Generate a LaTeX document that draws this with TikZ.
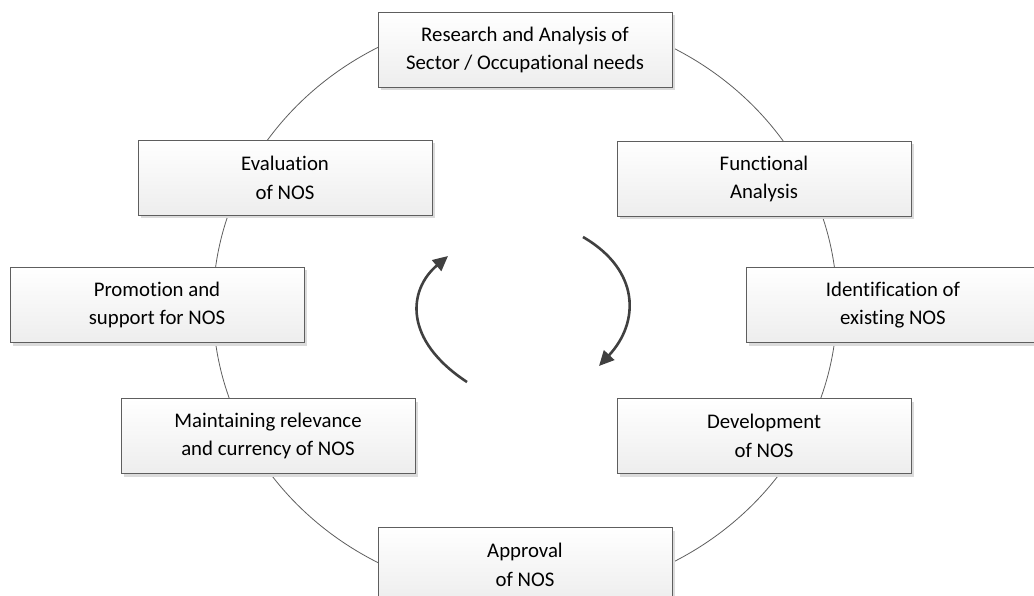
\documentclass[tikz,border=0pt]{standalone}
\usepackage{fontspec}
\setmainfont{Carlito}[Ligatures=NoCommon]
\usetikzlibrary{arrows.meta,shadows}

\definecolor{framegray}{HTML}{5E5E5E}
\definecolor{arrowgray}{HTML}{404040}

\tikzset{
  stagebox/.style={draw=framegray, line width=0.9pt, top color=white,
    bottom color=gray!14, minimum width=294pt, minimum height=75pt,
    inner sep=0pt, align=center,
    font=\fontsize{20.8}{28.5}\selectfont,
    drop shadow={shadow xshift=3pt, shadow yshift=-3pt,
      fill=gray!28, opacity=1}},
  cycle ring/.style={draw=framegray, line width=0.8pt},
  turn arrow/.style={draw=arrowgray, line width=2.6pt,
    -{Triangle[length=15pt,width=14pt]}}
}

\begin{document}
\begin{tikzpicture}[x=1pt,y=-1pt]
  \useasboundingbox (0,0) rectangle (1034,596);

  % ring behind the stages
  \draw[cycle ring] (525,305) ellipse [x radius=312pt, y radius=292pt];

  % stages
  \node[stagebox] (research) at (525,50)
    {Research and Analysis of\\Sector / Occupational needs};
  \node[stagebox] (functional) at (764,179) {Functional\\Analysis};
  \node[stagebox] (identification) at (893,305) {Identification of\\existing NOS};
  \node[stagebox] (development) at (764,436) {Development\\of NOS};
  \node[stagebox] (approval) at (525,565) {Approval\\of NOS};
  \node[stagebox] (maintaining) at (268,436)
    {Maintaining relevance\\and currency of NOS};
  \node[stagebox] (promotion) at (157,305) {Promotion and\\support for NOS};
  \node[stagebox] (evaluation) at (285,178) {Evaluation\\of NOS};

  % turning arrows in the middle
  \coordinate (leftstart) at (467,382);
  \coordinate (lefttip) at (448,256);
  \coordinate (rightstart) at (583,237);
  \coordinate (righttip) at (599,366);
  \draw[turn arrow] (leftstart) .. controls (403,340) and (408,290) .. (lefttip);
  \draw[turn arrow] (rightstart) .. controls (640,270) and (640,322) .. (righttip);
\end{tikzpicture}
\end{document}
